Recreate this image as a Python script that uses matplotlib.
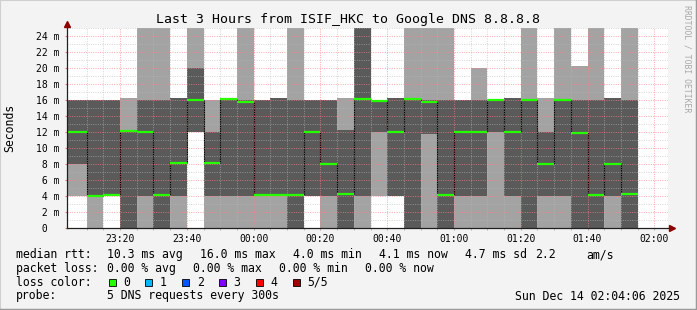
"""
Smokeping style latency graph: ISIF_HKC -> Google DNS 8.8.8.8, last 3 hours.
"""

import numpy as np
import matplotlib
matplotlib.use("Agg")
import matplotlib.pyplot as plt
from matplotlib.patches import Rectangle
from matplotlib.lines import Line2D

# ---- data (ms), one entry per 5 minute step ----
# slot end times in minutes after 23:00 (23:10 ... 01:55)
slot_end = np.arange(10, 176, 5)

ping_lo = [4, 0, 4, 0, 0, 0, 0, 12, 0, 0, 0, 0, 0, 0, 4, 0, 0,
           0, 4, 4, 0, 0, 0, 0, 0, 0, 0, 0, 0, 0, 0, 0, 0, 0]
ping_q1 = [8, 4, 4, 0, 4, 0, 4, 12, 4, 4, 4, 4, 4, 0, 4, 4, 0,
           4, 12, 4, 0, 11.8, 0, 4, 4, 12, 4, 0, 4, 4, 0, 0, 4, 0]
median = [12, 4, 4.1, 12.1, 12, 4.1, 8.1, 16, 8.1, 16.1, 15.8, 4.1, 4.1, 4.1, 12, 8, 4.2,
          16.1, 15.9, 12, 16.1, 15.8, 4.1, 12, 12, 16, 12, 16, 8, 16, 11.9, 4.1, 8, 4.2]
ping_q3 = [16, 16, 16, 12, 16, 16, 16.2, 20, 12, 16.2, 16, 16, 16.2, 16, 16, 16, 12.2,
           28, 16, 16.2, 16, 16, 16, 16, 16, 16, 16.3, 16, 12, 16, 16, 16, 16.3, 16]
ping_hi = [16, 16, 16, 16.2, 28, 28, 16.2, 28, 16, 16.2, 28, 16, 16.2, 28, 16, 16, 16.3,
           28, 16, 16.2, 28, 28, 28, 16, 20, 16, 16.3, 28, 16.3, 28, 20.2, 28, 16.3, 28]

x_start = 4.1      # 23:04:06
x_end = 184.1      # 02:04:06
x_ticks = [20, 40, 60, 80, 100, 120, 140, 160, 180]
x_labels = ["23:20", "23:40", "00:00", "00:20", "00:40", "01:00", "01:20", "01:40", "02:00"]
y_ticks = list(range(0, 25, 2))
y_labels = [" 0"] + [f"{v:2d} m" for v in y_ticks[1:]]

loss_labels = ["0", "1", "2", "3", "4", "5/5"]
loss_colors = ["#26ff00", "#00b8ff", "#0059ff", "#7e00ff", "#ff0000", "#a00000"]

stats_rtt = ["median rtt:", "10.3 ms avg", "16.0 ms max", "4.0 ms min",
             "4.1 ms now", "4.7 ms sd", "2.2", "am/s"]
stats_loss = ["packet loss:", "0.00 % avg", "0.00 % max", "0.00 % min", "0.00 % now"]

W, H = 697, 310
MONO = "DejaVu Sans Mono"
BG = "#f3f3f3"
DARK = "#5a5a5a"
LIGHT = "#a3a3a3"


def fx(x):
    return x / W


def fy(y):
    return 1 - y / H


fig = plt.figure(figsize=(W / 100, H / 100), dpi=100, facecolor=BG)
ax = fig.add_axes([fx(67), fy(228), 601 / W, 200 / H])
ax.set_facecolor("white")

edges = np.concatenate([[x_start], slot_end])
med = np.array(median)

# smoke: outer pair light, inner pair dark
ax.stairs(ping_hi, edges, baseline=ping_lo, fill=True, color=LIGHT, lw=0, zorder=1)
ax.stairs(ping_q3, edges, baseline=ping_q1, fill=True, color=DARK, lw=0, zorder=1.1)

# median line: black steps, green (0 loss) segments on top
ax.vlines(edges[1:-1], med[:-1], med[1:], colors="black", lw=0.8, zorder=2.2)
ax.hlines(med, edges[:-1], edges[1:], colors=loss_colors[0], lw=1.6, zorder=4)

ax.set_xlim(x_start, x_end)
ax.set_ylim(0, 25)
ax.set_xticks(x_ticks)
ax.set_xticklabels(x_labels, family=MONO, fontsize=7)
ax.set_xticks(np.arange(10, 184, 5), minor=True)
ax.set_yticks(y_ticks)
ax.set_yticklabels(y_labels, family=MONO, fontsize=7, ha="left")
ax.set_yticks(range(0, 26), minor=True)

ax.set_axisbelow(False)
ax.grid(which="minor", color="#b8b8b8", alpha=0.6, linestyle=(0, (1, 1.4)), lw=0.7)
ax.grid(which="major", color="#ff8080", alpha=0.7, linestyle=(0, (1, 1.4)), lw=0.7)

ax.tick_params(axis="x", which="both", length=1.5, color="#b0b0b0", pad=2.5)
ax.tick_params(axis="y", which="major", length=1.5, color="#e08080", pad=20.9)
ax.tick_params(axis="y", which="minor", length=0)
for s in ax.spines.values():
    s.set_visible(False)

# axes with arrow heads
ax.add_line(Line2D([0, 0], [0, 1.01], transform=ax.transAxes, color="#202020",
                   lw=0.9, clip_on=False, zorder=5))
ax.add_line(Line2D([0, 1.003], [0, 0], transform=ax.transAxes, color="#202020",
                   lw=0.9, clip_on=False, zorder=5))
ax.plot([0], [1.021], marker="^", ms=4, color="#8b0000", transform=ax.transAxes,
        clip_on=False, zorder=6)
ax.plot([1.006], [0], marker=">", ms=4, color="#8b0000", transform=ax.transAxes,
        clip_on=False, zorder=6)

# titles
fig.text(fx(348), fy(19.3), "Last 3 Hours from ISIF_HKC to Google DNS 8.8.8.8",
         family=MONO, fontsize=9.5, ha="center", va="center")
fig.text(fx(10), fy(127.5), "Seconds", family=MONO, fontsize=8.3,
         rotation=90, ha="center", va="center")
fig.text(fx(686.7), fy(59), "RRDTOOL / TOBI OETIKER", family=MONO, fontsize=5.9,
         rotation=270, ha="center", va="center", color="#a8a8a8")

# legend block
rtt_x = [16, 107.3, 200, 292.7, 379.3, 465.3, 535.3, 586.3]
for s, x in zip(stats_rtt, rtt_x):
    fig.text(fx(x), fy(254.7), s, family=MONO, fontsize=8.3, va="center")
loss_x = [16, 107.3, 193.3, 279.3, 365.3]
for s, x in zip(stats_loss, loss_x):
    fig.text(fx(x), fy(268.3), s, family=MONO, fontsize=8.3, va="center")

fig.text(fx(16), fy(282.3), "loss color:", family=MONO, fontsize=8.3, va="center")
for i, (lab, col) in enumerate(zip(loss_labels, loss_colors)):
    bx = 108.5 + i * 36.8
    fig.patches.append(Rectangle((fx(bx), fy(286)), 7 / W, 7 / H, transform=fig.transFigure,
                                 facecolor=col, edgecolor="black", lw=0.6))
    fig.text(fx(bx + 14.8), fy(282.3), lab, family=MONO, fontsize=8.3, va="center")

fig.text(fx(16), fy(296), "probe:", family=MONO, fontsize=8.3, va="center")
fig.text(fx(107.3), fy(296), "5 DNS requests every 300s", family=MONO, fontsize=8.3,
         va="center")
fig.text(fx(680.3), fy(296), "Sun Dec 14 02:04:06 2025", family=MONO, fontsize=8.3,
         va="center", ha="right")

# 3d frame
fig.add_artist(Line2D([0, 0, 1], [0, 1, 1], transform=fig.transFigure,
                      color="#cfcfcf", lw=1.5))
fig.add_artist(Line2D([0, 1, 1], [0, 0, 1], transform=fig.transFigure,
                      color="#9a9a9a", lw=2.5))

fig.savefig("out.png", dpi=100, facecolor=BG)
